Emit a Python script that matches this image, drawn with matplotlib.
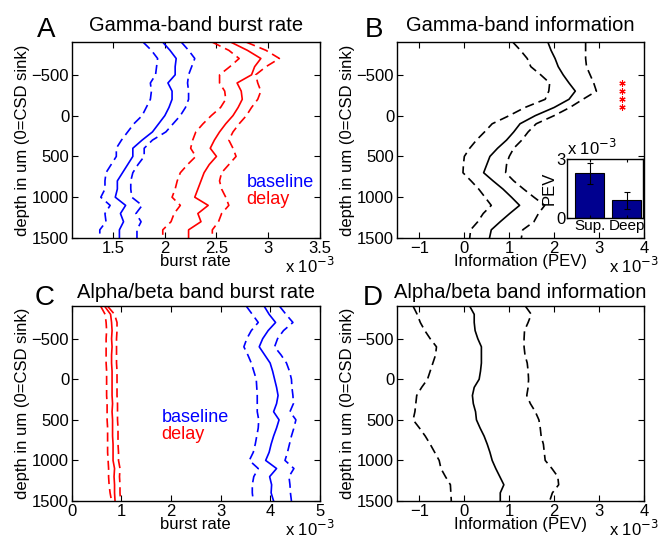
import matplotlib
matplotlib.use('Agg')
import matplotlib.pyplot as plt

plt.rcParams['font.family'] = ['Liberation Sans', 'DejaVu Sans']
plt.rcParams['font.size'] = 12

# depth below CSD sink (um)
depth = [-900, -800, -700, -600, -500, -400, -300, -200, -100, 0, 100, 200, 300,
         400, 500, 600, 700, 800, 900, 1000, 1100, 1200, 1300, 1400, 1500]

# A: gamma burst rate (x 1e-3)
gam_base = [1.98, 2.05, 2.11, 2.10, 2.10, 2.03, 2.07, 2.07, 2.04, 2.00, 1.94, 1.88, 1.78,
            1.69, 1.69, 1.64, 1.59, 1.54, 1.54, 1.52, 1.62, 1.57, 1.60, 1.56, 1.56]
gam_base_lo = [1.79, 1.87, 1.93, 1.92, 1.91, 1.86, 1.87, 1.86, 1.82, 1.78, 1.70, 1.64, 1.58,
               1.53, 1.53, 1.48, 1.43, 1.42, 1.42, 1.38, 1.47, 1.42, 1.43, 1.37, 1.37]
gam_base_hi = [2.16, 2.23, 2.29, 2.26, 2.23, 2.22, 2.23, 2.23, 2.20, 2.15, 2.08, 2.01, 1.88,
               1.80, 1.80, 1.74, 1.69, 1.67, 1.67, 1.68, 1.78, 1.72, 1.77, 1.73, 1.73]
gam_delay = [2.64, 2.80, 2.93, 2.87, 2.84, 2.70, 2.74, 2.75, 2.71, 2.66, 2.59, 2.53, 2.48,
             2.44, 2.50, 2.43, 2.38, 2.35, 2.32, 2.29, 2.42, 2.32, 2.35, 2.23, 2.23]
gam_delay_lo = [2.46, 2.62, 2.72, 2.63, 2.53, 2.53, 2.58, 2.59, 2.54, 2.45, 2.37, 2.30, 2.27,
                2.25, 2.30, 2.22, 2.15, 2.12, 2.10, 2.07, 2.15, 2.09, 2.06, 1.98, 1.98]
gam_delay_hi = [2.79, 2.98, 3.11, 2.98, 2.88, 2.90, 2.93, 2.90, 2.84, 2.79, 2.72, 2.66, 2.62,
                2.66, 2.69, 2.62, 2.55, 2.53, 2.55, 2.59, 2.62, 2.55, 2.52, 2.46, 2.46]

# B: gamma information (PEV, x 1e-3)
gam_info = [1.86, 1.93, 2.02, 2.09, 2.20, 2.33, 2.47, 2.33, 2.00, 1.58, 1.24, 1.10, 0.94,
            0.74, 0.57, 0.50, 0.43, 0.64, 0.86, 1.05, 1.23, 1.01, 0.80, 0.60, 0.56]
gam_info_lo = [1.08, 1.25, 1.40, 1.48, 1.70, 1.90, 1.88, 1.80, 1.35, 1.00, 0.62, 0.45, 0.27,
               0.12, 0.00, -0.02, -0.03, 0.15, 0.32, 0.46, 0.60, 0.42, 0.30, 0.14, 0.12]
gam_info_hi = [2.70, 2.70, 2.70, 2.72, 2.80, 2.88, 2.94, 2.64, 2.35, 2.00, 1.60, 1.42, 1.28,
               1.10, 1.00, 0.94, 0.92, 1.10, 1.32, 1.55, 1.79, 1.65, 1.55, 1.30, 1.27]
sig_depth = [-400, -300, -200, -100]
sig_x = 3.5

# inset: superficial vs deep PEV (x 1e-3)
inset_labels = ['Sup.', 'Deep']
inset_pev = [2.27, 0.90]
inset_err = [0.52, 0.43]

# C: alpha/beta burst rate (x 1e-3)
ab_delay = [0.66, 0.78, 0.80, 0.81, 0.80, 0.81, 0.80, 0.80, 0.81, 0.81, 0.81, 0.81, 0.82,
            0.81, 0.82, 0.82, 0.82, 0.83, 0.83, 0.83, 0.86, 0.85, 0.86, 0.86, 0.87]
ab_delay_lo = [0.58, 0.67, 0.69, 0.70, 0.69, 0.69, 0.69, 0.69, 0.70, 0.70, 0.70, 0.70, 0.71,
               0.71, 0.71, 0.72, 0.72, 0.72, 0.72, 0.73, 0.74, 0.74, 0.75, 0.77, 0.80]
ab_delay_hi = [0.72, 0.86, 0.91, 0.91, 0.90, 0.90, 0.90, 0.90, 0.91, 0.91, 0.91, 0.91, 0.92,
               0.92, 0.92, 0.93, 0.93, 0.93, 0.94, 0.94, 0.97, 0.96, 0.97, 0.97, 0.98]
ab_base = [3.88, 3.98, 4.11, 3.96, 3.85, 3.78, 3.89, 4.00, 4.05, 4.09, 4.13, 4.16, 4.13,
           4.07, 4.18, 4.13, 4.07, 4.02, 3.98, 3.91, 4.13, 3.99, 4.03, 4.02, 4.07]
ab_base_lo = [3.52, 3.64, 3.76, 3.62, 3.53, 3.47, 3.55, 3.62, 3.67, 3.72, 3.73, 3.74, 3.74,
              3.74, 3.77, 3.76, 3.73, 3.70, 3.66, 3.58, 3.76, 3.67, 3.64, 3.64, 3.66]
ab_base_hi = [4.19, 4.32, 4.46, 4.27, 4.15, 4.09, 4.22, 4.33, 4.39, 4.43, 4.44, 4.46, 4.47,
              4.40, 4.52, 4.48, 4.43, 4.39, 4.35, 4.30, 4.48, 4.38, 4.40, 4.41, 4.43]

# D: alpha/beta information (PEV, x 1e-3)
ab_info = [0.12, 0.22, 0.22, 0.24, 0.30, 0.38, 0.38, 0.38, 0.36, 0.33, 0.22, 0.18, 0.20,
           0.25, 0.27, 0.35, 0.44, 0.51, 0.57, 0.62, 0.70, 0.79, 0.88, 0.80, 0.80]
ab_info_lo = [-1.14, -1.05, -0.98, -0.88, -0.76, -0.62, -0.64, -0.70, -0.76, -0.82, -0.95, -1.06, -1.08,
              -1.10, -1.14, -1.00, -0.87, -0.76, -0.66, -0.56, -0.52, -0.42, -0.31, -0.30, -0.29]
ab_info_hi = [1.36, 1.49, 1.42, 1.34, 1.33, 1.33, 1.35, 1.40, 1.42, 1.43, 1.42, 1.39, 1.47,
              1.58, 1.66, 1.69, 1.71, 1.76, 1.78, 1.80, 1.95, 2.08, 2.10, 1.96, 1.90]

LW = 1.2
DASH = (0, (5.5, 3))


def style_axes(ax, xlim, xticks, xticklabels, xlabel):
    ax.set_ylim(1500, -900)
    ax.set_yticks([-500, 0, 500, 1000, 1500])
    ax.set_xlim(*xlim)
    ax.set_xticks(xticks)
    ax.set_xticklabels(xticklabels)
    ax.tick_params(direction='in', top=True, right=True, length=4, width=0.8, pad=2,
                   labelsize=12)
    for s in ax.spines.values():
        s.set_linewidth(1.0)
    ax.set_ylabel('depth in um (0=CSD sink)', fontsize=12, labelpad=1)
    ax.set_xlabel(xlabel, fontsize=12, labelpad=-1)
    ax.text(1.06, -0.145, r'x 10$^{-3}$', transform=ax.transAxes, ha='right',
            va='center', fontsize=12)


def band(ax, mid, lo, hi, color):
    ax.plot(mid, depth, color=color, lw=LW)
    ax.plot(lo, depth, color=color, lw=LW, linestyle=DASH)
    ax.plot(hi, depth, color=color, lw=LW, linestyle=DASH)


fig = plt.figure(figsize=(6.66, 5.38), dpi=100)
axA = fig.add_axes([0.108, 0.5576, 0.372, 0.364])
axB = fig.add_axes([0.596, 0.5576, 0.371, 0.364])
axC = fig.add_axes([0.108, 0.0688, 0.372, 0.362])
axD = fig.add_axes([0.596, 0.0688, 0.371, 0.362])

# A
band(axA, gam_base, gam_base_lo, gam_base_hi, 'b')
band(axA, gam_delay, gam_delay_lo, gam_delay_hi, 'r')
style_axes(axA, (1.1, 3.5), [1.5, 2, 2.5, 3, 3.5], ['1.5', '2', '2.5', '3', '3.5'], 'burst rate')
axA.text(2.79, 820, 'baseline', color='b', fontsize=13, va='center')
axA.text(2.79, 1030, 'delay', color='r', fontsize=13, va='center')
axA.set_title('Gamma-band burst rate', fontsize=14.5, pad=8)

# B
band(axB, gam_info, gam_info_lo, gam_info_hi, 'k')
axB.plot([sig_x] * len(sig_depth), sig_depth, linestyle='none', marker=(6, 2, 0),
         color='r', markersize=4.5, markeredgewidth=0.8)
style_axes(axB, (-1.5, 4), [-1, 0, 1, 2, 3, 4], ['\u22121', '0', '1', '2', '3', '4'],
           'Information (PEV)')
axB.set_title('Gamma-band information', fontsize=14.5, pad=8)

# inset
axI = fig.add_axes([0.851, 0.5948, 0.1141, 0.1097])
axI.bar([1, 2], inset_pev, width=0.8, color=(0, 0, 0.5625), edgecolor='k', linewidth=0.8,
        yerr=inset_err, error_kw=dict(ecolor='k', elinewidth=0.8, capsize=2.5, capthick=0.8))
axI.set_xlim(0.383, 2.44)
axI.set_ylim(0, 3)
axI.set_yticks([0, 3])
axI.set_xticks([1, 2])
axI.set_xticklabels(inset_labels)
axI.tick_params(direction='in', length=2, pad=1, labelsize=11, top=True, right=True)
axI.tick_params(axis='y', labelsize=12)
axI.set_ylabel('PEV', fontsize=12, labelpad=0)
for s in axI.spines.values():
    s.set_linewidth(1.0)
axI.text(0.0, 1.02, r'x 10$^{-3}$', transform=axI.transAxes, ha='left', va='bottom',
         fontsize=12)

# C
band(axC, ab_delay, ab_delay_lo, ab_delay_hi, 'r')
band(axC, ab_base, ab_base_lo, ab_base_hi, 'b')
style_axes(axC, (0, 5), [0, 1, 2, 3, 4, 5], ['0', '1', '2', '3', '4', '5'], 'burst rate')
axC.text(1.81, 474, 'baseline', color='b', fontsize=13, va='center')
axC.text(1.81, 680, 'delay', color='r', fontsize=13, va='center')
axC.set_title('Alpha/beta band burst rate', fontsize=14.5, pad=6)

# D
band(axD, ab_info, ab_info_lo, ab_info_hi, 'k')
style_axes(axD, (-1.5, 4), [-1, 0, 1, 2, 3, 4], ['\u22121', '0', '1', '2', '3', '4'],
           'Information (PEV)')
axD.set_title('Alpha/beta band information', fontsize=14.5, pad=6)

# panel letters
for lab, x, y in [('A', 0.055, 0.968), ('B', 0.548, 0.968), ('C', 0.052, 0.47), ('D', 0.545, 0.47)]:
    fig.text(x, y, lab, fontsize=20, ha='left', va='top')

fig.savefig('out.png', dpi=100)
